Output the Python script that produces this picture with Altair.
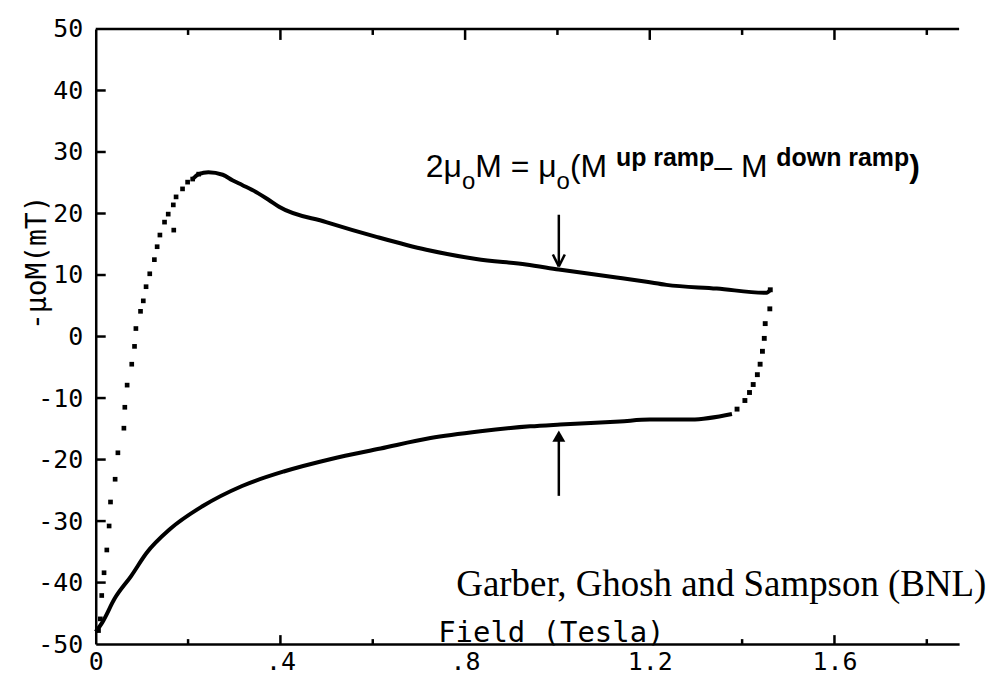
import altair as alt
import pandas as pd

# ---------------- data ----------------
# upper branch: sparse rising part (individual dots)
upper_sparse_x = [0.006, 0.010, 0.013, 0.018, 0.024, 0.029, 0.032, 0.042, 0.048, 0.061,
                  0.063, 0.068, 0.078, 0.084, 0.087, 0.097, 0.103, 0.109, 0.117, 0.127,
                  0.133, 0.139, 0.149, 0.157, 0.168, 0.169, 0.174, 0.188, 0.199, 0.210, 0.223]
upper_sparse_y = [-47.8, -45.9, -42.1, -38.4, -34.7, -30.8, -26.9, -23.2, -18.9, -14.9,
                  -11.5, -7.9, -4.5, -1.6, 1.3, 4.1, 5.8, 8.1, 10.2, 12.5,
                  14.6, 16.5, 18.6, 19.9, 21.4, 17.3, 22.7, 24.0, 25.1, 25.6, 26.4]

# upper branch: dense part (drawn as a thick trace)
upper_x = [0.210, 0.223, 0.244, 0.275, 0.296, 0.318, 0.347, 0.375, 0.397, 0.499,
           0.608, 0.716, 0.824, 0.932, 1.003, 1.128, 1.193, 1.236, 1.345, 1.453, 1.461]
upper_y = [25.6, 26.4, 26.7, 26.3, 25.4, 24.6, 23.5, 22.2, 21.1, 18.6,
           16.2, 14.1, 12.6, 11.7, 10.9, 9.6, 8.9, 8.4, 7.8, 7.1, 7.6]

# lower branch: dense part
lower_x = [0.0, 0.014, 0.041, 0.077, 0.110, 0.161, 0.231, 0.317, 0.409, 0.510,
           0.617, 0.725, 0.833, 0.941, 1.006, 1.135, 1.200, 1.290, 1.378]
lower_y = [-48.0, -46.5, -42.6, -38.9, -35.2, -31.3, -27.6, -24.3, -21.9, -19.9,
           -18.2, -16.5, -15.4, -14.6, -14.3, -13.8, -13.5, -13.5, -12.6]

# lower branch: sparse steep closing part
lower_sparse_x = [1.389, 1.406, 1.416, 1.424, 1.433, 1.439, 1.444, 1.448, 1.450, 1.460, 1.461]
lower_sparse_y = [-11.8, -10.4, -9.1, -7.8, -6.2, -4.5, -2.4, -0.3, 2.1, 4.5, 7.6]

# axis ticks / labels
x_label_values = [0, 0.4, 0.8, 1.2, 1.6]
x_label_text = ["0", ".4", ".8", "1.2", "1.6"]
top_minor_ticks = [0.2, 0.6, 1.0, 1.4, 1.8]
top_major_ticks = [0.4, 0.8, 1.2, 1.6]
bottom_minor_ticks = [0.2, 0.6, 1.4, 1.8]
bottom_major_ticks = [0.4, 1.6]
y_label_values = [50, 40, 30, 20, 10, 0, -10, -20, -30, -40, -50]
y_label_text = ["50", "40", "30", "20", "10", "0", "-10", "-20", "-30", "-40", "-50"]
y_ticks = [40, 30, 20, 10, 0, -10, -20, -30, -40]

X_TITLE = "Field (Tesla)"
Y_TITLE = "-\u03bcoM(mT)"
CREDIT = "Garber, Ghosh and Sampson (BNL)"

# ---------------- layout ----------------
W, H = 866, 617
X_MAX = 1.87
MONO = "DejaVu Sans Mono"
SANS = "Liberation Sans"
SERIF = "Liberation Serif"
PX_PER_X = W / X_MAX          # pixels per tesla
PX_PER_Y = H / 100.0          # pixels per mT

xs = alt.Scale(domain=[0, X_MAX], nice=False, zero=False)
ys = alt.Scale(domain=[-50, 50], nice=False, zero=False)


def label_expr(values, texts):
    parts = [f"abs(datum.value - ({v})) < 0.001 ? '{t}'" for v, t in zip(values, texts)]
    return " : ".join(parts) + " : ''"


x_axis = alt.Axis(values=x_label_values, labelExpr=label_expr(x_label_values, x_label_text),
                  ticks=False, grid=False, domain=True, domainColor="black", domainWidth=2.5,
                  labelFont=MONO, labelFontSize=25, labelColor="black", labelPadding=5,
                  labelFlush=False, labelOverlap=False,
                  title=X_TITLE, titleFont=MONO, titleFontSize=29, titleFontWeight="normal",
                  titleColor="black", titleX=343, titleY=-3, titleAlign="left",
                  titleBaseline="alphabetic", titleAngle=0)
y_axis = alt.Axis(values=y_label_values, labelExpr=label_expr(y_label_values, y_label_text),
                  ticks=False, grid=False, domain=True, domainColor="black", domainWidth=2.5,
                  labelFont=MONO, labelFontSize=25, labelColor="black", labelPadding=13,
                  labelFlush=False, labelOverlap=False,
                  title=Y_TITLE, titleFont=MONO, titleFontSize=28, titleFontWeight="normal",
                  titleColor="black", titleX=-58, titleY=234, titleAngle=270,
                  titleAlign="center", titleBaseline="middle")


def df(x, y):
    return pd.DataFrame({"x": x, "y": y})


def X():
    return alt.X("x:Q", scale=xs)


def Y():
    return alt.Y("y:Q", scale=ys)


upper_line = alt.Chart(df(upper_x, upper_y)).mark_line(
    color="black", strokeWidth=4, interpolate="monotone").encode(
    x=alt.X("x:Q", scale=xs, axis=x_axis), y=alt.Y("y:Q", scale=ys, axis=y_axis))
lower_line = alt.Chart(df(lower_x, lower_y)).mark_line(
    color="black", strokeWidth=4, interpolate="monotone").encode(x=X(), y=Y())
upper_pts = alt.Chart(df(upper_sparse_x, upper_sparse_y)).mark_square(
    color="black", size=22, opacity=1).encode(x=X(), y=Y())
lower_pts = alt.Chart(df(lower_sparse_x, lower_sparse_y)).mark_square(
    color="black", size=24, opacity=1).encode(x=X(), y=Y())

# inward axis ticks and the top frame line
rule_style = dict(color="black", strokeWidth=2.5)
left_ticks = alt.Chart(pd.DataFrame({"y": y_ticks})).mark_rule(**rule_style).encode(
    y=Y(), x=alt.value(0), x2=alt.value(10))
bottom_minor = alt.Chart(pd.DataFrame({"x": bottom_minor_ticks})).mark_rule(**rule_style).encode(
    x=X(), y=alt.value(H), y2=alt.value(H - 5))
bottom_major = alt.Chart(pd.DataFrame({"x": bottom_major_ticks})).mark_rule(**rule_style).encode(
    x=X(), y=alt.value(H), y2=alt.value(H - 9))
top_minor = alt.Chart(pd.DataFrame({"x": top_minor_ticks})).mark_rule(**rule_style).encode(
    x=X(), y=alt.value(0), y2=alt.value(6))
top_major = alt.Chart(pd.DataFrame({"x": top_major_ticks})).mark_rule(**rule_style).encode(
    x=X(), y=alt.value(0), y2=alt.value(11))
top_line = alt.Chart(pd.DataFrame({"x": [0]})).mark_rule(**rule_style).encode(
    x=alt.value(0), x2=alt.value(W), y=alt.value(0))

# arrows pointing at the two branches
arrow_x = 1.003
up_arrow_top, up_arrow_tip = 19.8, 11.4
lo_arrow_tail, lo_arrow_tip = -25.9, -15.0
head_dx = 6 / PX_PER_X
head_dy = 12 / PX_PER_Y
shafts = pd.DataFrame({"x": [arrow_x, arrow_x], "y": [up_arrow_top, lo_arrow_tail],
                       "y2": [up_arrow_tip, lo_arrow_tip - 1.5]})
shaft_layer = alt.Chart(shafts).mark_rule(color="black", strokeWidth=2.5).encode(
    x=X(), y=Y(), y2="y2:Q")
head = pd.DataFrame({"x": [arrow_x - head_dx, arrow_x + head_dx],
                     "y": [up_arrow_tip + head_dy] * 2,
                     "x2": [arrow_x, arrow_x], "y2": [up_arrow_tip, up_arrow_tip]})
head_layer = alt.Chart(head).mark_rule(color="black", strokeWidth=2.5).encode(
    x=X(), y=Y(), x2="x2:Q", y2="y2:Q")
lo_head = alt.Chart(df([arrow_x], [lo_arrow_tip - 1.2])).mark_point(
    shape="triangle-up", filled=True, color="black", size=170, opacity=1).encode(x=X(), y=Y())

# formula annotation built from pieces (subscripts / superscripts), laid out
# with Arial / Liberation Sans advance widths (1/1000 em)
AR = {"2": 556, "\u03bc": 576, "o": 556, "M": 833, " ": 278, "=": 584, "(": 333, ")": 333,
      "\u2013": 556}
AB = {"u": 611, "p": 611, " ": 278, "r": 389, "a": 556, "m": 889, "d": 611, "o": 611,
      "w": 778, "n": 611, ")": 333}
ann_x, ann_y = 0.715, 25.9
MAIN, SUB, SUP = 32, 24, 25
pieces = [("2\u03bc", MAIN, "normal", 0), ("o", SUB, "normal", 12),
          ("M = \u03bc", MAIN, "normal", 0), ("o", SUB, "normal", 12),
          (" (M", MAIN, "normal", 0), ("up ramp", SUP, "bold", -11),
          (" \u2013 M", MAIN, "normal", 0), ("down ramp", SUP, "bold", -11),
          (")", MAIN, "bold", 0)]
ann_layers = []
offset = 0.0
for text, size, weight, dy in pieces:
    table = AB if weight == "bold" else AR
    ann_layers.append(alt.Chart(df([ann_x], [ann_y])).mark_text(
        text=text, align="left", baseline="alphabetic", dx=offset, dy=dy,
        font=SANS, fontSize=size, fontWeight=weight, color="black").encode(x=X(), y=Y()))
    offset += sum(table.get(c, 556) for c in text) * size / 1000.0

credit = alt.Chart(df([1.929], [-42.2])).mark_text(
    text=CREDIT, align="right", baseline="alphabetic", font=SERIF, fontSize=37,
    color="black").encode(x=X(), y=Y())

chart = alt.layer(
    upper_line, lower_line, upper_pts, lower_pts,
    left_ticks, bottom_minor, bottom_major, top_minor, top_major, top_line,
    shaft_layer, head_layer, lo_head, *ann_layers, credit
).properties(
    width=W, height=H,
    padding={"left": 88, "top": 20, "right": 40, "bottom": 40},
    autosize=alt.AutoSizeParams(type="none"),
    background="white",
).configure_view(stroke=None)

chart.save("out.html", embed_options={"renderer": "svg", "actions": False})
